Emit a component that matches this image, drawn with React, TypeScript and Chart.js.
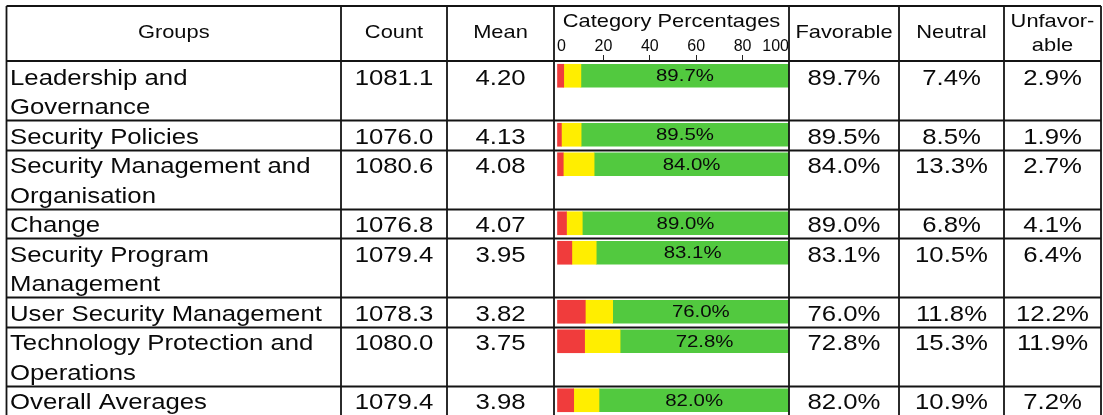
import React, { useEffect, useRef } from 'react';
import { Chart, registerables } from 'chart.js';

Chart.register(...registerables);

// ---------- data ----------
const groups: string[][] = [
  ['Leadership and', 'Governance'],
  ['Security Policies'],
  ['Security Management and', 'Organisation'],
  ['Change'],
  ['Security Program', 'Management'],
  ['User Security Management'],
  ['Technology Protection and', 'Operations'],
  ['Overall Averages'],
];
const counts = [1081.1, 1076.0, 1080.6, 1076.8, 1079.4, 1078.3, 1080.0, 1079.4];
const means = [4.2, 4.13, 4.08, 4.07, 3.95, 3.82, 3.75, 3.98];
const favorable = [89.7, 89.5, 84.0, 89.0, 83.1, 76.0, 72.8, 82.0];
const neutral = [7.4, 8.5, 13.3, 6.8, 10.5, 11.8, 15.3, 10.9];
const unfavorable = [2.9, 1.9, 2.7, 4.1, 6.4, 12.2, 11.9, 7.2];
const percentTicks = [0, 20, 40, 60, 80, 100];
const headerGroups = 'Groups';
const headerCount = 'Count';
const headerMean = 'Mean';
const headerBars = 'Category Percentages';
const headerFav = 'Favorable';
const headerNeu = 'Neutral';
const headerUnf = ['Unfavor-', 'able'];

// ---------- layout / style ----------
const W = 1103;
const H = 415;
const FAMILY = '"Liberation Sans", Arial, sans-serif';
const COLS = [6.5, 341, 447, 554, 789, 899, 1004, 1101];
const TOP = 6;
const HEAD_BOTTOM = 61;
const BAR_LEFT = 557;
const BAR_RIGHT = 789;
const RED = '#F03C3C';
const YELLOW = '#FFEE00';
const GREEN = '#52C93F';
const INK = '#0a0a0a';
const LINE = '#141414';

const lineStart: number[] = [];
let acc = 0;
groups.forEach((g) => {
  lineStart.push(acc);
  acc += g.length;
});
const totalLines = acc;

function txt(
  ctx: CanvasRenderingContext2D,
  s: string,
  x: number,
  y: number,
  align: CanvasTextAlign,
  size: number,
  sx: number,
  baseline: CanvasTextBaseline = 'alphabetic'
) {
  ctx.save();
  ctx.translate(x, y);
  ctx.scale(sx, 1);
  ctx.font = `${size}px ${FAMILY}`;
  ctx.fillStyle = INK;
  ctx.textAlign = align;
  ctx.textBaseline = baseline;
  ctx.fillText(s, 0, 0);
  ctx.restore();
}

const tablePlugin = {
  id: 'tablePlugin',
  afterDraw(chart: any) {
    const ctx: CanvasRenderingContext2D = chart.ctx;
    const yS = chart.scales.y;
    ctx.save();
    ctx.strokeStyle = LINE;
    ctx.lineWidth = 1.8;
    COLS.forEach((x) => {
      ctx.beginPath();
      ctx.moveTo(x, TOP);
      ctx.lineTo(x, H);
      ctx.stroke();
    });
    const hl = (y: number) => {
      ctx.beginPath();
      ctx.moveTo(COLS[0], y);
      ctx.lineTo(COLS[COLS.length - 1], y);
      ctx.stroke();
    };
    hl(TOP);
    hl(HEAD_BOTTOM);
    lineStart.forEach((ls, i) => {
      if (i > 0) hl(Math.round(yS.getPixelForValue(ls)) + 0.5);
    });
    ctx.restore();

    const cx = (a: number, b: number) => (COLS[a] + COLS[b]) / 2;
    const HS = 19;
    const HX = 1.15;
    txt(ctx, headerGroups, cx(0, 1), 38, 'center', HS, HX);
    txt(ctx, headerCount, cx(1, 2), 38, 'center', HS, HX);
    txt(ctx, headerMean, cx(2, 3), 38, 'center', HS, HX);
    txt(ctx, headerBars, cx(3, 4), 27, 'center', HS, HX);
    txt(ctx, headerFav, cx(4, 5), 38, 'center', HS, HX);
    txt(ctx, headerNeu, cx(5, 6), 38, 'center', HS, HX);
    txt(ctx, headerUnf[0], cx(6, 7), 27, 'center', HS, HX);
    txt(ctx, headerUnf[1], cx(6, 7), 51, 'center', HS, HX);

    const BS = 22;
    const BX = 1.17;
    const favMeta = chart.getDatasetMeta(2);
    groups.forEach((g, i) => {
      const top = yS.getPixelForValue(lineStart[i]);
      const lh = yS.getPixelForValue(lineStart[i] + 1) - top;
      g.forEach((line, k) => {
        txt(ctx, line, 10, top + lh * k + 23.5, 'left', BS, BX);
      });
      const by = top + 23.5;
      txt(ctx, counts[i].toFixed(1), cx(1, 2), by, 'center', BS, BX);
      txt(ctx, means[i].toFixed(2), cx(2, 3), by, 'center', BS, BX);
      txt(ctx, favorable[i].toFixed(1) + '%', cx(4, 5), by, 'center', BS, BX);
      txt(ctx, neutral[i].toFixed(1) + '%', cx(5, 6), by, 'center', BS, BX);
      txt(ctx, unfavorable[i].toFixed(1) + '%', cx(6, 7), by, 'center', BS, BX);
      const el = favMeta.data[i];
      if (el) {
        txt(ctx, favorable[i].toFixed(1) + '%', (el.x + el.base) / 2, el.y + 1, 'center', 17, 1.2, 'middle');
      }
    });
  },
};

export default function App() {
  const ref = useRef<HTMLCanvasElement | null>(null);
  useEffect(() => {
    if (!ref.current) return;
    const mk = (vals: number[]) => vals.map((v, i) => ({ x: v, y: lineStart[i] + 0.5 }));
    const chart = new Chart(ref.current, {
      type: 'bar',
      data: {
        datasets: [
          { label: 'Unfavorable', data: mk(unfavorable), backgroundColor: RED },
          { label: 'Neutral', data: mk(neutral), backgroundColor: YELLOW },
          { label: 'Favorable', data: mk(favorable), backgroundColor: GREEN },
        ] as any,
      },
      options: {
        indexAxis: 'y',
        responsive: false,
        animation: false,
        devicePixelRatio: 1,
        layout: { padding: { left: BAR_LEFT, right: W - BAR_RIGHT, top: 0, bottom: 0 } },
        plugins: { legend: { display: false }, tooltip: { enabled: false } },
        datasets: { bar: { barThickness: 23, borderWidth: 0 } } as any,
        scales: {
          x: {
            type: 'linear',
            position: 'top',
            min: 0,
            max: 100,
            stacked: true,
            offset: false,
            afterFit: (s: any) => {
              s.height = HEAD_BOTTOM;
            },
            afterBuildTicks: (s: any) => {
              s.ticks = percentTicks.map((v) => ({ value: v }));
            },
            ticks: {
              align: 'inner',
              padding: 0,
              color: INK,
              maxRotation: 0,
              autoSkip: false,
              font: { family: FAMILY, size: 16, lineHeight: 1 },
            },
            grid: {
              drawOnChartArea: false,
              drawTicks: true,
              tickLength: 6,
              lineWidth: 1,
              color: (c: any) =>
                c.tick && (c.tick.value === 0 || c.tick.value === 100) ? 'rgba(0,0,0,0)' : '#222',
            },
            border: { display: false },
          },
          y: {
            type: 'linear',
            reverse: true,
            min: 0,
            max: totalLines,
            stacked: true,
            offset: false,
            display: false,
          },
        } as any,
      },
      plugins: [tablePlugin],
    });
    return () => chart.destroy();
  }, []);
  return (
    <div style={{ position: 'fixed', left: 0, top: 0, width: W, height: H, background: '#fff' }}>
      <canvas ref={ref} width={W} height={H} style={{ display: 'block' }} />
    </div>
  );
}
